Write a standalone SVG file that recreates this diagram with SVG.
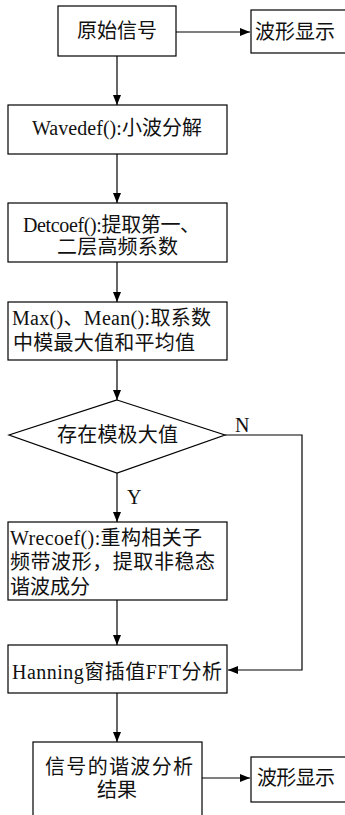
<svg xmlns="http://www.w3.org/2000/svg" width="345" height="815" viewBox="0 0 345 815">
<style>
.box{fill:#fff;stroke:#000;stroke-width:1.2}
.t{font-family:"Liberation Serif","Noto Sans CJK SC",serif;font-size:20px;fill:#111}
.c{stroke:#000;stroke-width:1.2;fill:none}
</style>
<defs>
<marker id="ah" markerWidth="10" markerHeight="8" refX="10" refY="4" orient="auto" markerUnits="userSpaceOnUse">
<path d="M0,0 L10,4 L0,8 Z" fill="#000"/>
</marker>
</defs>
<rect width="345" height="815" fill="#fff"/>
<g id="connectors">
<line class="c" x1="176" y1="32" x2="250" y2="32" marker-end="url(#ah)"/>
<line class="c" x1="117" y1="56" x2="117" y2="105" marker-end="url(#ah)"/>
<line class="c" x1="117" y1="154" x2="117" y2="203" marker-end="url(#ah)"/>
<line class="c" x1="117" y1="262" x2="117" y2="302" marker-end="url(#ah)"/>
<line class="c" x1="117" y1="360" x2="117" y2="400" marker-end="url(#ah)"/>
<line class="c" x1="117" y1="473" x2="117" y2="522" marker-end="url(#ah)"/>
<polyline class="c" points="225,435 302,435 302,670 228,670" marker-end="url(#ah)"/>
<line class="c" x1="117" y1="600" x2="117" y2="645" marker-end="url(#ah)"/>
<line class="c" x1="117" y1="693" x2="117" y2="742" marker-end="url(#ah)"/>
<line class="c" x1="202" y1="778" x2="250" y2="778" marker-end="url(#ah)"/>
<text class="t" x="235" y="432">N</text>
<text class="t" x="127" y="504">Y</text>
</g>
<g id="n1"><rect class="box" x="58" y="6" width="118" height="50"/><text class="t" x="77" y="38" textLength="80" lengthAdjust="spacing">原始信号</text></g>
<g id="n2"><rect class="box" x="251" y="10" width="100" height="43"/><text class="t" x="255" y="39" textLength="80" lengthAdjust="spacing">波形显示</text></g>
<g id="n3"><rect class="box" x="8" y="105" width="219" height="49"/><text class="t" x="32" y="135" textLength="170" lengthAdjust="spacing">Wavedef():小波分解</text></g>
<g id="n4"><rect class="box" x="8" y="203" width="219" height="59"/><text class="t" x="23" y="232" textLength="177" lengthAdjust="spacing">Detcoef():提取第一、</text><text class="t" x="57" y="254" textLength="121" lengthAdjust="spacing">二层高频系数</text></g>
<g id="n5"><rect class="box" x="8" y="302" width="219" height="58"/><text class="t" x="12" y="325" textLength="199" lengthAdjust="spacing">Max()、Mean():取系数</text><text class="t" x="13" y="350" textLength="182" lengthAdjust="spacing">中模最大值和平均值</text></g>
<g id="n6"><polygon class="box" points="117,400 225,435 117,473 9,435"/><text class="t" x="57" y="442" textLength="121" lengthAdjust="spacing">存在模极大值</text></g>
<g id="n7"><rect class="box" x="8" y="522" width="219" height="78"/><text class="t" x="10" y="545" textLength="192" lengthAdjust="spacing">Wrecoef():重构相关子</text><text class="t" x="10" y="569" textLength="205" lengthAdjust="spacing">频带波形，提取非稳态</text><text class="t" x="10" y="594" textLength="80" lengthAdjust="spacing">谐波成分</text></g>
<g id="n8"><rect class="box" x="8" y="645" width="219" height="48"/><text class="t" x="12" y="679" textLength="210" lengthAdjust="spacing">Hanning窗插值FFT分析</text></g>
<g id="n9"><rect class="box" x="33" y="742" width="169" height="80"/><text class="t" x="45" y="774" textLength="148" lengthAdjust="spacing">信号的谐波分析</text><text class="t" x="97" y="797" textLength="40" lengthAdjust="spacing">结果</text></g>
<g id="n10"><rect class="box" x="251" y="757" width="100" height="45"/><text class="t" x="257" y="785" textLength="78" lengthAdjust="spacing">波形显示</text></g>
</svg>
